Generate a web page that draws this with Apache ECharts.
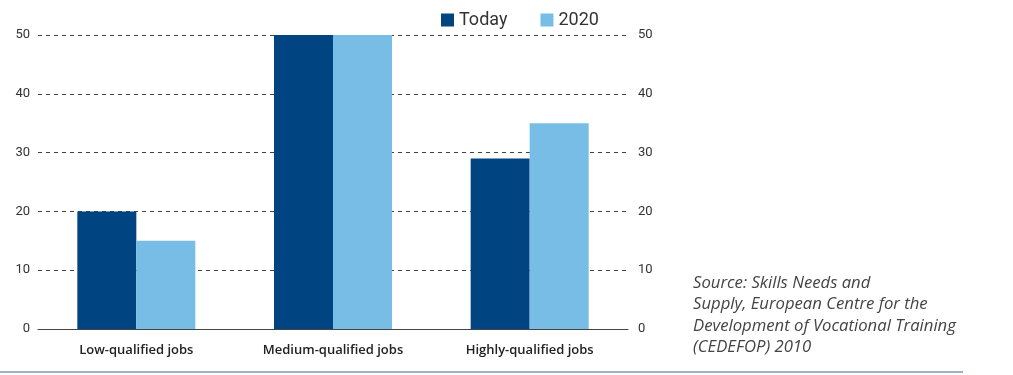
<!DOCTYPE html>
<html><head><meta charset="utf-8">
<script src="https://cdn.jsdelivr.net/npm/echarts@6/dist/echarts.min.js"></script>
<style>html,body{margin:0;padding:0;background:#fff}#c{width:1013px;height:375px}</style>
</head><body><div id="c"></div>
<script>
const categories = ["Low-qualified jobs", "Medium-qualified jobs", "Highly-qualified jobs"];
const today = [20, 50, 29];
const y2020 = [15, 50, 35];
const seriesNames = ["Today", "2020"];
const sourceLines = ["Source: Skills Needs and", "Supply, European Centre for the", "Development of Vocational Training", "(CEDEFOP) 2010"];

const chart = echarts.init(document.getElementById('c'));
const font = 'Roboto, "DejaVu Sans", sans-serif';
const wide = '"Open Sans", Roboto, sans-serif';
const yAx = (pos) => ({
  type: 'value', position: pos, min: 0, max: 50, interval: 10,
  axisLine: {show: false}, axisTick: {show: false},
  axisLabel: {color: '#333', fontSize: 13, fontFamily: font, margin: pos === 'left' ? 8 : 10},
  splitLine: {show: pos === 'left', lineStyle: {color: '#444', type: [4, 4], width: 1}}
});
chart.setOption({
  animation: false,
  textStyle: {fontFamily: font},
  legend: {
    top: 6, left: 436, itemWidth: 13, itemHeight: 13, itemGap: 33,
    icon: 'rect',
    textStyle: {fontSize: 18, color: '#333', fontFamily: font},
    data: seriesNames
  },
  grid: {left: 38, right: 385, top: 35, bottom: 46, containLabel: false},
  xAxis: {
    type: 'category', data: categories,
    axisLine: {lineStyle: {color: '#444', width: 1}},
    axisTick: {inside: true, length: 7, lineStyle: {color: '#444'}},
    axisLabel: {color: '#222', fontSize: 13, fontWeight: 600, margin: 15, fontFamily: wide}
  },
  yAxis: [yAx('left'), yAx('right')],
  series: [
    {name: seriesNames[0], type: 'bar', data: today, barGap: '0%', barCategoryGap: '40%', itemStyle: {color: '#004481'}},
    {name: seriesNames[1], type: 'bar', data: y2020, itemStyle: {color: '#77bde6'}}
  ],
  graphic: [
    {type: 'text', left: 693, top: 272, style: {text: sourceLines.join('\n'), fontSize: 16.7, fontStyle: 'italic', lineHeight: 21.5, fill: '#444', fontFamily: wide}},
    {type: 'line', shape: {x1: 0, y1: 372, x2: 963, y2: 372}, style: {stroke: '#7f98aa', lineWidth: 1.5}}
  ]
});
</script></body></html>
